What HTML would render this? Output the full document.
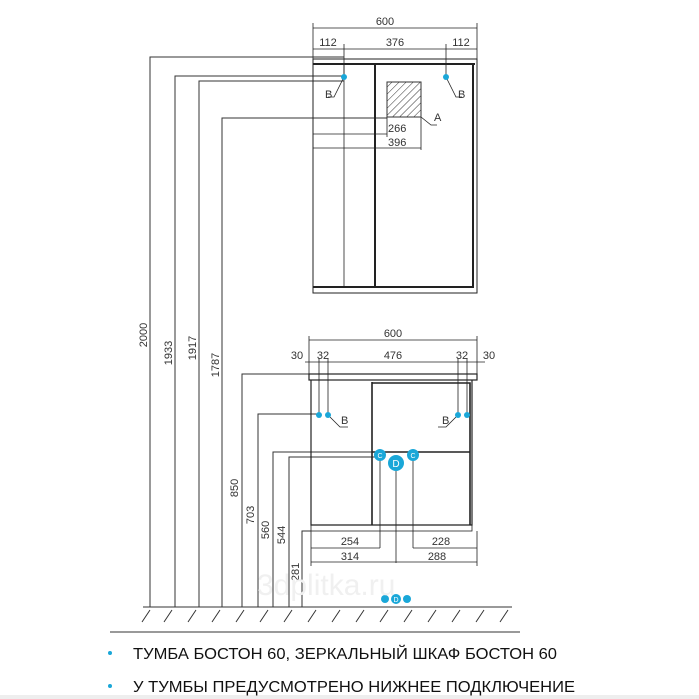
<!DOCTYPE html>
<html><head><meta charset="utf-8"><style>
html,body{margin:0;padding:0;background:#fff;}
svg{display:block}
text{font-family:"Liberation Sans","DejaVu Sans",sans-serif;}
</style></head><body>
<svg width="699" height="699" viewBox="0 0 699 699" xmlns="http://www.w3.org/2000/svg">
<rect x="0" y="695" width="699" height="4" fill="#eee"/>
<g stroke="#333" stroke-width="1" fill="none">
<path d="M150,607V57H344"/><path d="M175,607V76H344"/><path d="M199,607V81H344"/><path d="M222,607V118H387"/>
<path d="M242,607V374H309"/><path d="M258,607V414H319"/><path d="M273,607V452H380"/><path d="M289,607V457H380"/><path d="M302,607V531H311"/>
<path d="M143,607H512"/><path d="M110,632H520"/>
</g>
<g stroke="#333" stroke-width="1">
<path d="M150,610l-8,12M172,610l-8,12M196,610l-8,12M220,610l-8,12M244,610l-8,12M268,610l-8,12M292,610l-8,12M316,610l-8,12M340,610l-8,12M364,610l-8,12M388,610l-8,12M412,610l-8,12M436,610l-8,12M460,610l-8,12M484,610l-8,12M508,610l-8,12"/>
</g>
<g stroke="#222" fill="none">
<rect x="313" y="59" width="164" height="234" stroke-width="1"/>
<path d="M313,64H475" stroke-width="2"/><path d="M313,287H474" stroke-width="2"/>
<path d="M375,64V287" stroke-width="2"/><path d="M473,64V287" stroke-width="2"/>
<path d="M344,64V287" stroke-width="0.8"/>
<path d="M313,28H477M313,23V59M477,23V59" stroke-width="0.8"/>
<path d="M313,49H477M344,44V77M446,44V77" stroke-width="0.8"/>
<path d="M387,117V137M313,134H387M421,117V150M313,148H421" stroke-width="0.8"/>
<path d="M344,77l-10,20h-6M446,77l10,20h6M421,117l10,8h6" stroke-width="0.8"/>
</g>
<defs><pattern id="h" width="5" height="5" patternUnits="userSpaceOnUse" patternTransform="rotate(45)"><path d="M0,0V5" stroke="#333" stroke-width="1"/></pattern></defs>
<rect x="387" y="82" width="34" height="35" fill="url(#h)" stroke="#333"/>
<circle cx="344" cy="77" r="3" fill="#1aa7d8"/><circle cx="446" cy="77" r="3" fill="#1aa7d8"/>
<g font-size="11" fill="#333">
<text x="385" y="25" text-anchor="middle">600</text>
<text x="328" y="46" text-anchor="middle">112</text><text x="395" y="46" text-anchor="middle">376</text><text x="461" y="46" text-anchor="middle">112</text>
<text x="388" y="132">266</text><text x="388" y="146">396</text>
<text x="325" y="98">B</text><text x="458" y="98">B</text><text x="434" y="121">A</text>
</g>
<g stroke="#222" fill="none">
<rect x="309" y="374" width="168" height="6" stroke-width="1.2"/>
<path d="M311,380V525H472V380" stroke-width="1.2"/>
<path d="M372,382V525M372,383H470V525M372,452H470" stroke-width="1.6"/>
<rect x="311" y="525" width="161" height="6" stroke-width="0.8"/>
<path d="M309,340H477M309,336V374M477,336V374" stroke-width="0.8"/>
<path d="M305,362H485M319,358V415M328,358V415M458,358V415M467,358V415" stroke-width="0.8"/>
<path d="M328,415l12,12h8M458,415l-12,12h-8" stroke-width="0.8"/>
<path d="M380,455V548M413,455V548M396,463V563" stroke-width="0.8"/>
<path d="M311,531V566M477,531V566M311,548H380M413,548H477M311,562H477" stroke-width="0.8"/>
</g>
<circle cx="319" cy="415" r="3" fill="#1aa7d8"/><circle cx="328" cy="415" r="3" fill="#1aa7d8"/>
<circle cx="458" cy="415" r="3" fill="#1aa7d8"/><circle cx="467" cy="415" r="3" fill="#1aa7d8"/>
<g fill="#fff" text-anchor="middle">
<circle cx="380" cy="455" r="6" fill="#1aa7d8"/><text x="380" y="458" font-size="7">C</text>
<circle cx="413" cy="455" r="6" fill="#1aa7d8"/><text x="413" y="458" font-size="7">C</text>
<circle cx="396" cy="463" r="8" fill="#1aa7d8"/><text x="396" y="467" font-size="10">D</text>
<circle cx="385" cy="599" r="4" fill="#1aa7d8"/><circle cx="396" cy="599" r="5" fill="#1aa7d8"/><circle cx="407" cy="599" r="4" fill="#1aa7d8"/>
<text x="396" y="602" font-size="7">D</text>
</g>
<g font-size="11" fill="#333">
<text x="393" y="337" text-anchor="middle">600</text>
<text x="297" y="359" text-anchor="middle">30</text><text x="323" y="359" text-anchor="middle">32</text>
<text x="393" y="359" text-anchor="middle">476</text><text x="462" y="359" text-anchor="middle">32</text><text x="489" y="359" text-anchor="middle">30</text>
<text x="341" y="424">B</text><text x="442" y="424">B</text>
<text x="350" y="545" text-anchor="middle">254</text><text x="441" y="545" text-anchor="middle">228</text>
<text x="350" y="560" text-anchor="middle">314</text><text x="437" y="560" text-anchor="middle">288</text>
</g>
<g font-size="11" fill="#333" text-anchor="middle">
<text transform="translate(147,335) rotate(-90)">2000</text>
<text transform="translate(172,353) rotate(-90)">1933</text>
<text transform="translate(196,348) rotate(-90)">1917</text>
<text transform="translate(219,365) rotate(-90)">1787</text>
<text transform="translate(238,488) rotate(-90)">850</text>
<text transform="translate(254,515) rotate(-90)">703</text>
<text transform="translate(269,530) rotate(-90)">560</text>
<text transform="translate(285,535) rotate(-90)">544</text>
<text transform="translate(299,572) rotate(-90)">281</text>
</g>
<text x="257" y="595" font-size="30" fill="#f0f0f0">3dplitka.ru</text>
<g font-size="16" fill="#111">
<circle cx="110" cy="653" r="2" fill="#1aa7d8"/><text x="133" y="659" textLength="424" lengthAdjust="spacingAndGlyphs">ТУМБА БОСТОН 60, ЗЕРКАЛЬНЫЙ ШКАФ БОСТОН 60</text>
<circle cx="110" cy="686" r="2" fill="#1aa7d8"/><text x="133" y="692" textLength="442" lengthAdjust="spacingAndGlyphs">У ТУМБЫ ПРЕДУСМОТРЕНО НИЖНЕЕ ПОДКЛЮЧЕНИЕ</text>
</g>
</svg>
</body></html>
